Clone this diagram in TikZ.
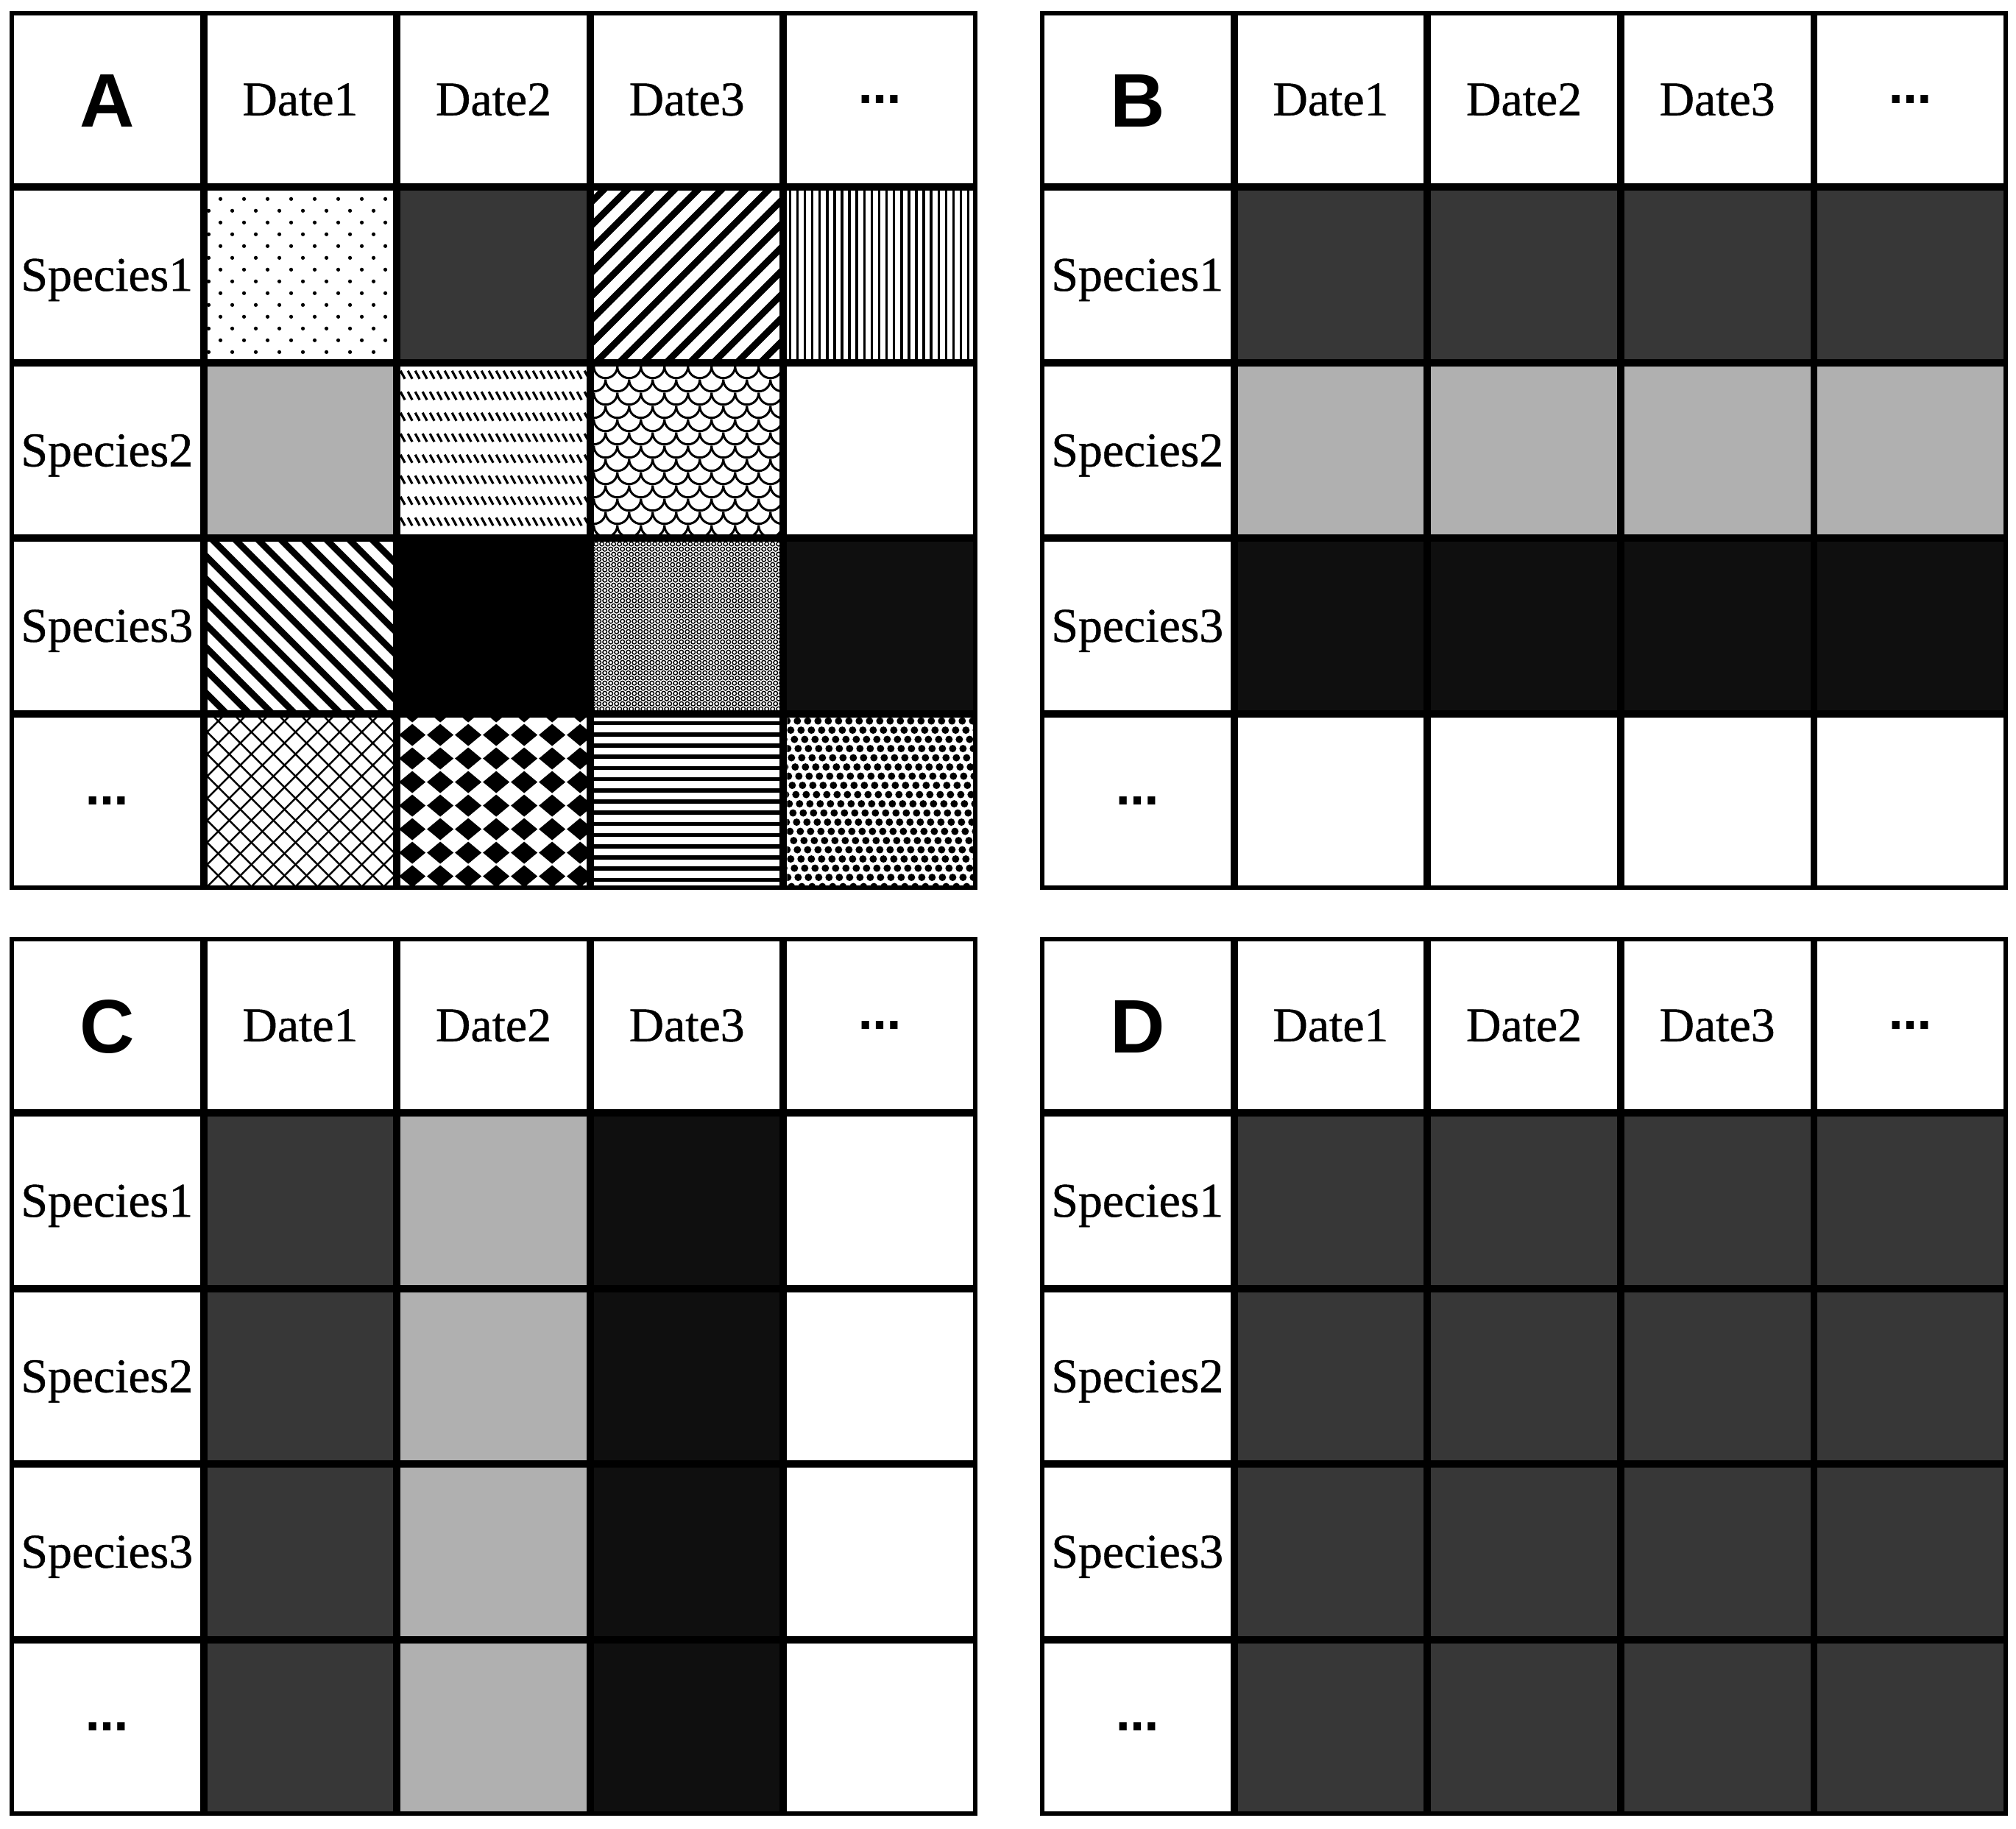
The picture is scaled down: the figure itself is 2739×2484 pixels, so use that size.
\documentclass[tikz,border=0pt]{standalone}
\usepackage{fontspec}
\setmainfont{Liberation Serif}
\newfontfamily\heavyserif{Liberation Serif}[FakeBold=0.7]
\newfontfamily\letterfont{Liberation Sans}
\newfontfamily\dotsfont{DejaVu Sans}
\definecolor{dg}{HTML}{373737}
\definecolor{lg}{HTML}{B0B0B0}
\definecolor{nb}{HTML}{0F0F0F}
\newcommand\mkgrid[3]{%
  \fill[black] (#2,#3) rectangle ++(1315,1194);
  \foreach \ry in {0,...,4}{\foreach \cx in {0,...,4}{%
     \node[cellbox] (#1-\ry-\cx) at ({#2+6+\cx*262.6+126.3},{#3+6+\ry*238.4+114.2}) {};}}%
  \node[letter] (#1-lbl) at ([yshift=-0.369cm]#1-0-0.center) {#1};
  \foreach \cx in {1,2,3}{\node[txt] (#1-d\cx) at ([yshift=-0.215cm]#1-0-\cx.center) {Date\cx};}
  \node[ell] (#1-dmore) at ([yshift=-0.05cm]#1-0-4.center) {…};
  \foreach \ry in {1,2,3}{\node[txt] (#1-s\ry) at ([yshift=-0.215cm]#1-\ry-0.center) {Species\ry};}
  \node[ell] (#1-smore) at ([yshift=-0.05cm]#1-4-0.center) {…};
}
\newcommand\inpat[2]{%
  \begin{scope}
  \clip (#1.north west) rectangle (#1.south east);
  \begin{scope}[shift={(#1.north west)}]
  #2
  \end{scope}
  \end{scope}}
\newcommand\cellfill[2]{\fill[#1] (#2.north west) rectangle (#2.south east);}
\begin{document}
\begin{tikzpicture}[x=0.01cm,y=-0.01cm,
  cellbox/.style={inner sep=0pt, outer sep=0pt, minimum width=2.526cm, minimum height=2.284cm, fill=white, draw=none},
  txt/.style={inner sep=0pt, anchor=base, font=\heavyserif\fontsize{18.7}{20}\selectfont},
  letter/.style={inner sep=0pt, anchor=base, font=\letterfont\bfseries\fontsize{29.3}{32}\selectfont},
  ell/.style={inner sep=0pt, anchor=base, font=\dotsfont\bfseries\fontsize{16.5}{18}\selectfont}
]
\useasboundingbox (0,0) rectangle (2739,2484);
\fill[white] (0,0) rectangle (2739,2484);

\mkgrid{A}{13}{15}
\mkgrid{B}{1413}{15}
\mkgrid{C}{13}{1273}
\mkgrid{D}{1413}{1273}

% B fills
\foreach \cx in {1,...,4}{%
  \cellfill{dg}{B-1-\cx}
  \cellfill{lg}{B-2-\cx}
  \cellfill{nb}{B-3-\cx}}
% C fills
\foreach \ry in {1,...,4}{%
  \cellfill{dg}{C-\ry-1}
  \cellfill{lg}{C-\ry-2}
  \cellfill{nb}{C-\ry-3}}
% D fills
\foreach \ry in {1,...,4}{\foreach \cx in {1,...,4}{\cellfill{dg}{D-\ry-\cx}}}

% A fills
\cellfill{dg}{A-1-2}
\cellfill{lg}{A-2-1}
\cellfill{black}{A-3-2}
\cellfill{nb}{A-3-4}

% A patterns
\inpat{A-1-1}{\foreach \j in {0,...,14}{\foreach \i in {-1,...,8}{\fill ({18+32*\i+16*mod(\j,2)},{11+16*\j}) circle[radius=0.026cm];}}}
\inpat{A-1-3}{\foreach \k in {0,...,16}{\draw[line width=0.09cm] ({\k*32-10},-10) -- ++(-270,270);}}
\inpat{A-1-4}{\foreach \k in {0,...,25}{\draw[line width=0.035cm] ({4+\k*10.1},-5) -- ++(0,240);}}
\inpat{A-2-2}{\foreach \j in {0,...,8}{\foreach \i in {0,...,26}{\draw[line width=0.032cm] ({\i*10},{6+\j*28.5}) -- ++(6,11);}}}
\inpat{A-2-3}{\foreach \j in {0,...,13}{\foreach \i in {-1,...,9}{\draw[line width=0.03cm] ({\i*32+16*mod(\j,2)},{\j*18}) arc[start angle=180,end angle=360,radius=0.16cm];}}}
\inpat{A-3-1}{\foreach \k in {-8,...,9}{\draw[line width=0.09cm] ({\k*31},-10) -- ++(270,270);}}
\inpat{A-3-3}{\foreach \j in {0,...,33}{\foreach \i in {-1,...,32}{\draw[line width=0.014cm] ({\i*8+4*mod(\j,2)+3},{\j*7+3}) circle[radius=0.028cm];}}}
\inpat{A-4-1}{\foreach \k in {-9,...,17}{\draw[line width=0.025cm] ({\k*30},-10) -- ++(270,270); \draw[line width=0.025cm] ({\k*30},-10) -- ++(-270,270);}}
\inpat{A-4-2}{\foreach \j in {0,...,8}{\foreach \i in {-1,...,7}{\fill ({16+38*\i},{-8+32*\j}) ++(-18,0) -- ++(18,-15) -- ++(18,15) -- ++(-18,15) -- cycle;}}}
\inpat{A-4-3}{\foreach \k in {0,...,15}{\draw[line width=0.055cm] (-5,{8+\k*15.2}) -- ++(270,0);}}
\inpat{A-4-4}{\foreach \j in {0,...,19}{\foreach \i in {-2,...,20}{\fill ({\i*14+mod(5*\j,14)},{5+\j*12.5}) circle[radius=0.05cm];}}}
\end{tikzpicture}
\end{document}
